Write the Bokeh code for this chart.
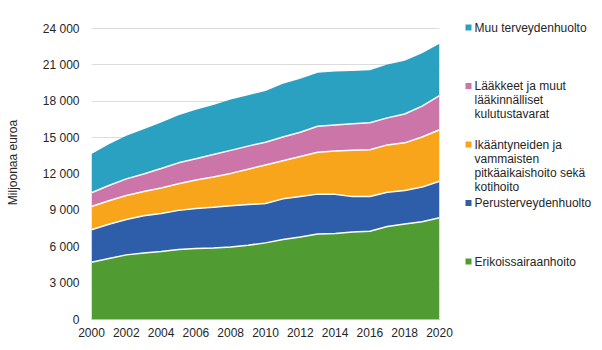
from bokeh.plotting import figure
from bokeh.models import ColumnDataSource, Range1d, FixedTicker
from bokeh.layouts import row
from bokeh.transform import stack
from bokeh.embed import file_html
from bokeh.resources import INLINE
from bokeh.core.properties import value

years = list(range(2000, 2021))
erikoissairaanhoito = [4730, 5030, 5330, 5480, 5600, 5780, 5850, 5900, 5970, 6130, 6320,
                       6600, 6800, 7060, 7100, 7220, 7280, 7670, 7870, 8060, 8390]
perusterveydenhuolto = [2670, 2820, 2920, 3070, 3150, 3220, 3300, 3350, 3410, 3350, 3250,
                        3350, 3350, 3280, 3220, 2930, 2870, 2830, 2770, 2860, 3010]
ikaantyneet = [1920, 1950, 1980, 2000, 2100, 2190, 2350, 2500, 2670, 2920, 3180,
               3150, 3300, 3460, 3580, 3800, 3850, 3900, 3930, 4130, 4250]
laakkeet = [1130, 1250, 1370, 1450, 1600, 1730, 1750, 1850, 1900, 1900, 1870,
            1950, 2000, 2140, 2150, 2200, 2220, 2230, 2380, 2550, 2820]
muu = [3200, 3400, 3550, 3700, 3800, 3930, 4050, 4100, 4200, 4200, 4230,
       4400, 4400, 4410, 4400, 4350, 4340, 4400, 4400, 4350, 4280]

series_names = ["Erikoissairaanhoito", "Perusterveydenhuolto",
                "Ikääntyneiden ja vammaisten pitkäaikaishoito sekä kotihoito",
                "Lääkkeet ja muut lääkinnälliset kulutustavarat",
                "Muu terveydenhuolto"]
legend_lines = [["Muu terveydenhuolto"],
                ["Lääkkeet ja muut", "lääkinnälliset", "kulutustavarat"],
                ["Ikääntyneiden ja", "vammaisten", "pitkäaikaishoito sekä", "kotihoito"],
                ["Perusterveydenhuolto"],
                ["Erikoissairaanhoito"]]
y_ticks = [0, 3000, 6000, 9000, 12000, 15000, 18000, 21000, 24000]
y_tick_labels = ["0", "3 000", "6 000", "9 000", "12 000", "15 000", "18 000", "21 000", "24 000"]
x_ticks = list(range(2000, 2021, 2))

colors = ["#519b33", "#2e5ea9", "#f9a51b", "#cb75a9", "#2aa1c1"]
keys = ["s0", "s1", "s2", "s3", "s4"]
src = ColumnDataSource(dict(year=years, s0=erikoissairaanhoito, s1=perusterveydenhuolto,
                            s2=ikaantyneet, s3=laakkeet, s4=muu))

FONT = "Liberation Sans"
TXT = "#262626"

# frame: top of 24 000 gridline at px 28, zero at px 319; frame extended up to px 5
TOP_PX, GRID_TOP_PX, BOTTOM_PX = 5, 28, 319
y_max = 24000
y_end = y_max + (GRID_TOP_PX - TOP_PX) * y_max / (BOTTOM_PX - GRID_TOP_PX)

p = figure(width=455, height=350, output_backend="svg", toolbar_location=None,
           x_range=Range1d(2000, 2020), y_range=Range1d(0, y_end),
           min_border_left=91, min_border_right=16, min_border_top=TOP_PX,
           min_border_bottom=350 - BOTTOM_PX)
p.outline_line_color = None
p.background_fill_color = "white"
p.border_fill_color = "white"

p.varea_stack(stackers=keys, x="year", color=colors, source=src)
for i in range(4):
    p.line(x="year", y=stack(*keys[:i + 1]), source=src, line_color="white", line_width=1.5)

p.xgrid.grid_line_color = None
p.ygrid.grid_line_color = "#dcdcdc"
p.ygrid.grid_line_width = 1
p.yaxis.ticker = FixedTicker(ticks=y_ticks)
p.ygrid.ticker = FixedTicker(ticks=y_ticks)
p.yaxis.major_label_overrides = {t: l for t, l in zip(y_ticks, y_tick_labels)}
p.xaxis.ticker = FixedTicker(ticks=x_ticks)
for ax in (p.xaxis[0], p.yaxis[0]):
    ax.major_tick_line_color = None
    ax.minor_tick_line_color = None
    ax.major_tick_out = 0
    ax.major_tick_in = 0
    ax.major_label_text_font = FONT
    ax.major_label_text_font_size = "12px"
    ax.major_label_text_color = TXT
p.yaxis.axis_line_color = None
p.xaxis.axis_line_color = "#bfbfbf"
p.yaxis.major_label_standoff = 12
p.xaxis.major_label_standoff = 8
p.yaxis.axis_label = "Miljoonaa euroa"
p.yaxis.axis_label_text_font = FONT
p.yaxis.axis_label_text_font_size = "12px"
p.yaxis.axis_label_text_font_style = "normal"
p.yaxis.axis_label_text_color = TXT
p.yaxis.axis_label_standoff = 20

# legend panel (its frame shares the main frame's top/bottom, so data y == pixel y)
leg = figure(width=147, height=350, output_backend="svg", toolbar_location=None,
             x_range=Range1d(455, 602), y_range=Range1d(BOTTOM_PX, TOP_PX),
             x_axis_location=None, y_axis_location=None, title=None,
             min_border=0, min_border_left=0, min_border_right=0,
             min_border_top=TOP_PX, min_border_bottom=350 - BOTTOM_PX)
leg.grid.visible = False
leg.outline_line_color = None
leg.background_fill_color = "white"
leg.border_fill_color = "white"

leg_colors = colors[::-1]
mx, my, tx, ty, tt = [], [], [], [], []
for i, lines in enumerate(legend_lines):
    y0 = 27 + 58.5 * i
    mx.append(468)
    my.append(y0)
    for j, line in enumerate(lines):
        tx.append(474)
        ty.append(y0 + 14 * j)
        tt.append(line)
leg.scatter(x=mx, y=my, marker="square", size=6, color=leg_colors, line_color=None)
leg.text(x=tx, y=ty, text=tt, text_font=value(FONT), text_font_size="12px",
         text_baseline="middle", text_align="left", text_color=TXT)

layout = row(p, leg, spacing=0)
open("out.html", "w").write(file_html(layout, INLINE))
